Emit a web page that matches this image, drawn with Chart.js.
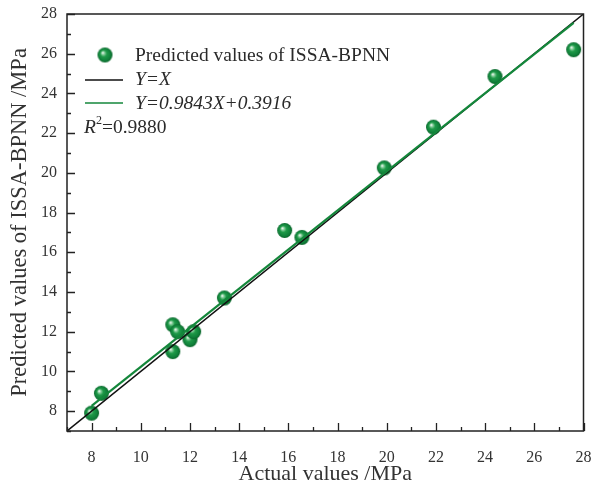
<!DOCTYPE html>
<html>
<head>
<meta charset="utf-8">
<script src="https://cdn.jsdelivr.net/npm/chart.js@4.4.1/dist/chart.umd.min.js"></script>
<style>
  html, body { margin: 0; padding: 0; background: #fff; }
  #wrap { width: 592px; height: 489px; }
</style>
</head>
<body>
<div id="wrap"><canvas id="grafico" width="592" height="489"></canvas></div>
<script>
// datos: valores reales vs predichos (ISSA-BPNN)
const actualValues = [8.0, 8.4, 11.3, 11.3, 11.5, 12.0, 12.15, 13.4, 15.85, 16.55, 19.9, 21.9, 24.4, 27.6];
const predictedValues = [7.9, 8.9, 12.35, 11.0, 12.0, 11.6, 12.0, 13.7, 17.1, 16.75, 20.25, 22.3, 24.85, 26.2];

// recta de ajuste y recta Y=X
const fitSlope = 0.9843;
const fitIntercept = 0.3916;
const fitRange = [8.0, 27.6];
const identityRange = [7, 28];
const r2Text = "0.9880";

// ticks
const majorTicks = [8, 10, 12, 14, 16, 18, 20, 22, 24, 26, 28];
const minorTicks = [7, 9, 11, 13, 15, 17, 19, 21, 23, 25, 27];

const FUENTE = "'Liberation Serif', 'Times New Roman', serif";
const VERDE = "#14873b";

//ESFERA VERDE PARA LOS PUNTOS
function crearEsfera(r) {
  let c = document.createElement("canvas");
  c.width = c.height = r * 2 + 2;
  let g = c.getContext("2d");
  let cx = r + 1, cy = r + 1;
  let grad = g.createRadialGradient(cx - r * 0.32, cy - r * 0.32, r * 0.02, cx, cy, r);
  grad.addColorStop(0, "#ffffff");
  grad.addColorStop(0.18, "#8fd0a2");
  grad.addColorStop(0.42, "#1f9a48");
  grad.addColorStop(0.8, "#10803a");
  grad.addColorStop(1, "#0a6429");
  g.fillStyle = grad;
  g.beginPath();
  g.arc(cx, cy, r, 0, Math.PI * 2);
  g.fill();
  return c;
}
const esfera = crearEsfera(7.5);

let puntos = actualValues.map((x, i) => ({ x: x, y: predictedValues[i] }));
let lineaXY = identityRange.map((v) => ({ x: v, y: v }));
let lineaAjuste = fitRange.map((v) => ({ x: v, y: fitSlope * v + fitIntercept }));

//TICKS INTERIORES, MARCO Y LEYENDA
const marcoPlugin = {
  id: "marco",
  beforeDraw(chart) {
    let ctx = chart.ctx;
    ctx.save();
    ctx.fillStyle = "#fff";
    ctx.fillRect(0, 0, chart.width, chart.height);
    ctx.restore();
  },
  afterDraw(chart) {
    let ctx = chart.ctx;
    let a = chart.chartArea;
    let sx = chart.scales.x, sy = chart.scales.y;
    ctx.save();
    ctx.strokeStyle = "#222";
    ctx.lineWidth = 1.5;
    ctx.strokeRect(a.left, a.top, a.right - a.left, a.bottom - a.top);

    ctx.lineWidth = 1.3;
    ctx.beginPath();
    majorTicks.forEach((v) => {
      let px = Math.round(sx.getPixelForValue(v)) + 0.5;
      ctx.moveTo(px, a.bottom); ctx.lineTo(px, a.bottom - 8);
      let py = Math.round(sy.getPixelForValue(v)) + 0.5;
      ctx.moveTo(a.left, py); ctx.lineTo(a.left + 8, py);
    });
    minorTicks.forEach((v) => {
      let px = Math.round(sx.getPixelForValue(v)) + 0.5;
      ctx.moveTo(px, a.bottom); ctx.lineTo(px, a.bottom - 4);
      let py = Math.round(sy.getPixelForValue(v)) + 0.5;
      ctx.moveTo(a.left, py); ctx.lineTo(a.left + 4, py);
    });
    ctx.stroke();

    // leyenda
    ctx.drawImage(esfera, 105 - esfera.width / 2, 55 - esfera.height / 2);
    ctx.fillStyle = "#2a2a2a";
    ctx.textBaseline = "middle";
    ctx.font = "19.5px " + FUENTE;
    ctx.fillText("Predicted values of ISSA-BPNN", 135, 56);

    ctx.lineWidth = 1.5;
    ctx.strokeStyle = "#111";
    ctx.beginPath(); ctx.moveTo(85, 80); ctx.lineTo(123, 80); ctx.stroke();
    ctx.strokeStyle = VERDE;
    ctx.beginPath(); ctx.moveTo(85, 103); ctx.lineTo(123, 103); ctx.stroke();

    ctx.font = "italic 19.5px " + FUENTE;
    ctx.fillText("Y=X", 135, 80);
    ctx.fillText("Y=" + fitSlope + "X+" + fitIntercept, 135, 104);

    let x = 84;
    ctx.fillText("R", x, 128);
    x += ctx.measureText("R").width;
    ctx.font = "12px " + FUENTE;
    ctx.fillText("2", x, 121);
    x += ctx.measureText("2").width;
    ctx.font = "19.5px " + FUENTE;
    ctx.fillText("=" + r2Text, x, 128);
    ctx.restore();
  },
};

let ctx = document.getElementById("grafico");

new Chart(ctx, {
  type: "scatter",
  data: {
    datasets: [
      {
        label: "Predicted values of ISSA-BPNN",
        data: puntos,
        pointStyle: esfera,
        pointRadius: 7.5,
        order: 3,
      },
      {
        type: "line",
        label: "Y=X",
        data: lineaXY,
        borderColor: "#111",
        borderWidth: 1.5,
        pointRadius: 0,
        order: 2,
      },
      {
        type: "line",
        label: "Y=0.9843X+0.3916",
        data: lineaAjuste,
        borderColor: VERDE,
        borderWidth: 2.2,
        pointRadius: 0,
        order: 1,
      },
    ],
  },
  options: {
    responsive: false,
    animation: false,
    layout: { padding: { left: 0, top: 14, right: 8, bottom: 0 } },
    plugins: {
      legend: { display: false },
      tooltip: { enabled: false },
    },
    scales: {
      x: {
        type: "linear",
        min: 7,
        max: 28,
        afterBuildTicks: (s) => { s.ticks = majorTicks.map((v) => ({ value: v })); },
        afterFit: (s) => { s.height = 58; s.paddingLeft = 0; s.paddingRight = 0; },
        grid: { display: false, drawTicks: false },
        border: { display: false },
        ticks: {
          padding: 17,
          color: "#333",
          font: { family: FUENTE, size: 16 },
          maxRotation: 0,
        },
        title: {
          display: true,
          text: "Actual values /MPa",
          color: "#333",
          font: { family: FUENTE, size: 22 },
          padding: { top: 0, bottom: 2 },
        },
      },
      y: {
        type: "linear",
        min: 7,
        max: 28,
        afterBuildTicks: (s) => { s.ticks = majorTicks.map((v) => ({ value: v })); },
        afterFit: (s) => { s.width = 67; s.paddingTop = 0; s.paddingBottom = 0; },
        grid: { display: false, drawTicks: false },
        border: { display: false },
        ticks: {
          padding: 10,
          color: "#333",
          font: { family: FUENTE, size: 16 },
        },
        title: {
          display: true,
          text: "Predicted values of ISSA-BPNN /MPa",
          color: "#333",
          font: { family: FUENTE, size: 22.5 },
          padding: { top: 7, bottom: 0 },
        },
      },
    },
  },
  plugins: [marcoPlugin],
});
</script>
</body>
</html>
